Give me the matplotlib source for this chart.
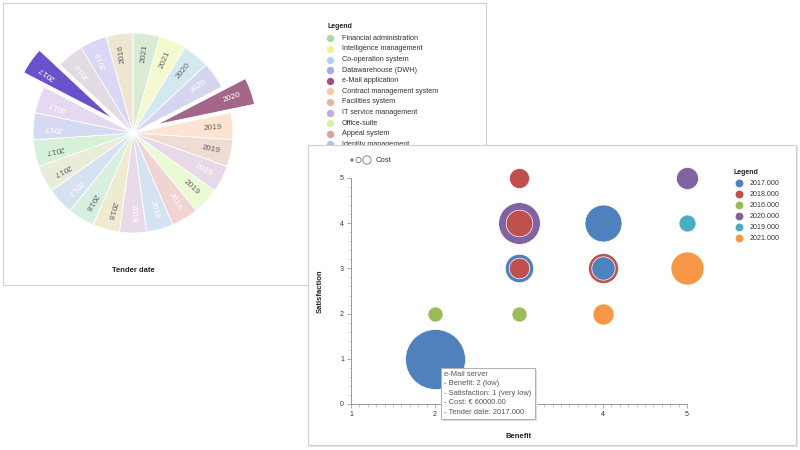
import numpy as np
import matplotlib.pyplot as plt
from matplotlib.patches import Rectangle, Wedge

plt.rcParams['font.family'] = ['Liberation Sans', 'DejaVu Sans']

# ---- left panel: pie of tender dates ----
slice_years = ["2021", "2021", "2020", "2020", "2020", "2019", "2019", "2019",
               "2019", "2018", "2018", "2018", "2018", "2018", "2017", "2017",
               "2017", "2017", "2017", "2017", "2016", "2018", "2016"]
slice_colors = ["#d9ebd5", "#f5f9cf", "#d3e9ef", "#d5d5ef", "#a36689", "#fde4d2",
                "#efdcd2", "#e8d9e8", "#eafad4", "#f1d3d3", "#d5e2f2", "#e9daea",
                "#efebd3", "#d6efdf", "#d6e1f1", "#e8ecd8", "#d7f0da", "#d5d9f1",
                "#e6d8f1", "#6a50cc", "#e3dbe3", "#d9d7f3", "#efe5d3"]
label_colors = ["#666666", "#666666", "#666666", "white", "white", "#666666",
                "#666666", "white", "#666666", "white", "white", "white",
                "#666666", "#666666", "white", "#666666", "#666666", "white",
                "white", "white", "white", "white", "#666666"]
exploded = [4, 19]

legend_names = ["Financial administration", "Intelligence management",
                "Co-operation system", "Datawarehouse (DWH)", "e-Mail application",
                "Contract management system", "Facilities system",
                "IT service management", "Office-suite", "Appeal system",
                "Identity management"]
legend_colors = ["#a8d8a0", "#eef590", "#a8d8e8", "#a8a8e8", "#a05080", "#f8c8a0",
                 "#e0b8a0", "#c8a8d8", "#d0f5a0", "#e0a0a0", "#a8c8e8"]

# ---- right panel: bubbles ----
benefit = [2, 2, 3, 3, 3, 3, 3, 3, 4, 4, 4, 4, 5, 5, 5]
satisfaction = [1, 2, 2, 3, 3, 4, 4, 5, 4, 3, 3, 2, 5, 4, 3]
cost = [60000, 3800, 3800, 13500, 7000, 29000, 11800, 6700, 22800, 15000, 9100,
        7400, 8100, 4800, 18200]
tender = [2017, 2016, 2016, 2017, 2018, 2020, 2018, 2018, 2017, 2018, 2017,
          2021, 2020, 2019, 2021]
year_order = [2017, 2018, 2016, 2020, 2019, 2021]
year_colors = {2017: "#4f81bd", 2018: "#c0504d", 2016: "#9bbb59",
               2020: "#8064a2", 2019: "#4bacc6", 2021: "#f79646"}
x_ticklabels = ["1", "2", "", "4", "5"]  # the "3" sits under the tooltip
tooltip_lines = ["e-Mail server", "- Benefit: 2 (low)",
                 "- Satisfaction: 1 (very low)", "- Cost: \u20ac 60000.00",
                 "- Tender date: 2017.000"]

W, H = 800, 450
fig = plt.figure(figsize=(8, 4.5), dpi=100)


def overlay(z):
    a = fig.add_axes([0, 0, 1, 1], zorder=z)
    a.set_xlim(0, W)
    a.set_ylim(H, 0)
    a.axis("off")
    a.patch.set_alpha(0)
    return a


base = overlay(0)
base.add_patch(Rectangle((3, 3), 483, 282, fill=False, ec="#d0d0d0", lw=0.8))
base.text(133, 271, "Tender date", fontsize=5.5, fontweight="bold",
          ha="center", va="center", color="#222222")
base.text(327, 26, "Legend", fontsize=5, fontweight="bold", va="center",
          color="#222222")
for i, (name, c) in enumerate(zip(legend_names, legend_colors)):
    y = 38.3 + i * 10.6
    base.scatter([330], [y], s=28, color=c, lw=0)
    base.text(342, y, name, fontsize=5.2, va="center", color="#333333")

# pie in its own axes, 100 px per data unit, centre at (133,133) px
ax_pie = fig.add_axes([3 / W, 1 - 283 / H, 280 / W, 280 / H], zorder=1)
ax_pie.set_xlim(-1.3, 1.5)
ax_pie.set_ylim(-1.5, 1.3)
ax_pie.axis("off")
ax_pie.patch.set_alpha(0)
n = len(slice_years)
step = 360.0 / n
for i in range(n):
    t2 = 90 - i * step
    t1 = t2 - step
    mid = np.deg2rad((t1 + t2) / 2)
    off = 0.25 if i in exploded else 0.0
    cx, cy = off * np.cos(mid), off * np.sin(mid)
    ax_pie.add_patch(Wedge((cx, cy), 1.0, t1, t2, fc=slice_colors[i],
                           ec="white", lw=0.6))
    r = 0.8 + off
    ax_pie.text(r * np.cos(mid), r * np.sin(mid), slice_years[i],
                rotation=np.rad2deg(mid), rotation_mode="anchor",
                ha="center", va="center", fontsize=6, color=label_colors[i])

# right panel frame
rbg = overlay(2)
rbg.add_patch(Rectangle((310, 147), 488, 300, fc="#e6e6e6", ec="none"))
rbg.add_patch(Rectangle((308, 145), 488, 300, fc="white", ec="#cfcfcf", lw=0.8))

ax = fig.add_axes([351 / W, 1 - 404 / H, 336 / W, 226 / H], zorder=3)
ax.patch.set_alpha(0)
order = np.argsort(cost)[::-1]
k = (60 * 72 / 100) ** 2 / 60000
for j in order:
    ax.scatter(benefit[j], satisfaction[j], s=cost[j] * k,
               color=year_colors[tender[j]], ec="white", lw=0.5, clip_on=False)
ax.set_xlim(1, 5)
ax.set_ylim(0, 5)
ax.set_xticks([1, 2, 3, 4, 5], x_ticklabels)
ax.set_yticks([0, 1, 2, 3, 4, 5])
ax.set_xticks(np.arange(1, 5.01, 0.1), minor=True)
ax.set_yticks(np.arange(0, 5.01, 0.2), minor=True)
for s in ["top", "right"]:
    ax.spines[s].set_visible(False)
for s in ["left", "bottom"]:
    ax.spines[s].set_color("#888888")
    ax.spines[s].set_linewidth(0.6)
ax.tick_params(which="major", length=3, width=0.5, color="#888888",
               labelsize=5, labelcolor="#333333", pad=2)
ax.tick_params(which="minor", length=1.8, width=0.4, color="#999999")
ax.set_xlabel("Benefit", fontsize=5.5, fontweight="bold", color="#222222",
              labelpad=11)
ax.set_ylabel("Satisfaction", fontsize=5.5, fontweight="bold", color="#222222",
              labelpad=12)

top = overlay(4)
# size legend
top.scatter([352, 358.5, 367], [160, 160, 160], s=[3, 14, 36],
            fc=["#888888", "white", "white"], ec="#777777", lw=0.6)
top.text(376, 160, "Cost", fontsize=5.5, va="center", color="#333333")
# year legend
top.text(734, 172, "Legend", fontsize=5, fontweight="bold", va="center",
         color="#222222")
for i, yr in enumerate(year_order):
    y = 183.3 + i * 11
    top.scatter([739], [y], s=32, color=year_colors[yr], lw=0)
    top.text(750, y, "%d.000" % yr, fontsize=5.1, va="center", color="#333333")
# tooltip
top.add_patch(Rectangle((443, 370), 94, 51, fc="#dddddd", ec="none"))
top.add_patch(Rectangle((441, 368), 94, 51, fc="white", ec="#b0b0b0", lw=0.7))
for i, line in enumerate(tooltip_lines):
    top.text(444, 374 + i * 9.6, line, fontsize=5.4, va="center", color="#555555")

fig.savefig("out.png", dpi=100)
